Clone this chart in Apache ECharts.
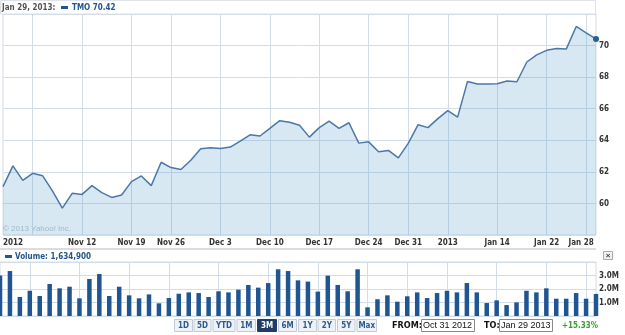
<!DOCTYPE html>
<html><head><meta charset="utf-8">
<script src="https://cdn.jsdelivr.net/npm/echarts@6/dist/echarts.min.js"></script>
<style>html,body{margin:0;padding:0;background:#fff}#c{width:625px;height:335px}</style>
</head><body><div id="c"></div>
<script>
const dates = [
 '2012-10-31','2012-11-01','2012-11-02','2012-11-05','2012-11-06','2012-11-07','2012-11-08','2012-11-09',
 '2012-11-12','2012-11-13','2012-11-14','2012-11-15','2012-11-16','2012-11-19','2012-11-20','2012-11-21',
 '2012-11-23','2012-11-26','2012-11-27','2012-11-28','2012-11-29','2012-11-30','2012-12-03','2012-12-04',
 '2012-12-05','2012-12-06','2012-12-07','2012-12-10','2012-12-11','2012-12-12','2012-12-13','2012-12-14',
 '2012-12-17','2012-12-18','2012-12-19','2012-12-20','2012-12-21','2012-12-24','2012-12-26','2012-12-27',
 '2012-12-28','2012-12-31','2013-01-02','2013-01-03','2013-01-04','2013-01-07','2013-01-08','2013-01-09',
 '2013-01-10','2013-01-11','2013-01-14','2013-01-15','2013-01-16','2013-01-17','2013-01-18','2013-01-22',
 '2013-01-23','2013-01-24','2013-01-25','2013-01-28','2013-01-29'];
const prices = [
 61.06,62.38,61.46,61.91,61.76,60.80,59.70,60.64,60.57,61.13,60.68,60.38,60.53,61.38,61.74,61.13,
 62.61,62.27,62.15,62.74,63.46,63.52,63.48,63.57,63.95,64.35,64.27,64.76,65.24,65.14,64.95,64.20,
 64.80,65.22,64.76,65.11,63.82,63.90,63.27,63.36,62.89,63.80,64.99,64.80,65.37,65.88,65.47,67.73,
 67.56,67.56,67.58,67.75,67.71,68.96,69.41,69.70,69.81,69.79,71.21,70.81,70.42];
const volumes = [
 3000000,3330000,1410000,1870000,1480000,2370000,2050000,2170000,1310000,2740000,3110000,1480000,
 2170000,1530000,1310000,1600000,940000,1330000,1650000,1750000,1700000,1410000,1830000,1750000,
 1950000,2300000,2100000,2440000,3460000,3330000,2640000,2550000,1810000,2990000,2300000,1830000,
 3460000,640000,1240000,1530000,1060000,1460000,1750000,1330000,1700000,1870000,1750000,2440000,
 1750000,960000,1160000,810000,1010000,1870000,1750000,2050000,1280000,1280000,1700000,1280000,1634900];
const gridDates = ['2012-11-05','2012-11-12','2012-11-19','2012-11-26','2012-12-03','2012-12-10','2012-12-17',
 '2012-12-24','2012-12-31','2013-01-07','2013-01-14','2013-01-22','2013-01-28'];
const tickDates = ['2012-10-31','2012-11-12','2012-11-19','2012-11-26','2012-12-03','2012-12-10','2012-12-17',
 '2012-12-24','2012-12-31','2013-01-07','2013-01-14','2013-01-22','2013-01-28'];
const tickLabels = ['2012','Nov 12','Nov 19','Nov 26','Dec 3','Dec 10','Dec 17','Dec 24','Dec 31','2013','Jan 14','Jan 22','Jan 28'];
const priceTicks = [60,62,64,66,68,70];
const volumeTicks = [1000000,2000000,3000000];

const FF = '"DejaVu Sans Condensed","DejaVu Sans",sans-serif';
const gridLine = '#d3dde7';
const lab = {fontSize:8, fontWeight:'bold', color:'#333', fontFamily:FF};

const chart = echarts.init(document.getElementById('c'), null, {renderer:'canvas'});

const buttons = [['1D',174,193],['5D',193.5,211.5],['YTD',212.5,235.5],['1M',236.5,256],['3M',257,277],
 ['6M',278,297],['1Y',298,317],['2Y',317.5,336],['5Y',337,355.5],['Max',356.5,377]];
const btnGraphics = [];
buttons.forEach(b => {
  const sel = b[0] === '3M';
  btnGraphics.push({type:'rect', shape:{x:b[1]+0.5, y:319.5, width:b[2]-b[1]-1, height:12},
    style:{fill: sel ? '#1f3d66' : '#eef2f6', stroke: sel ? '#1f3d66' : '#c3ccd6', lineWidth:1}});
  btnGraphics.push({type:'text', x:(b[1]+b[2])/2, y:326,
    style:{text:b[0], fill: sel ? '#fff' : '#2b5b8e', font:'bold 8px '+FF, align:'center', verticalAlign:'middle'}});
});

chart.setOption({
  animation:false,
  backgroundColor:'#fff',
  grid:[
    {left:0, right:29, top:14, height:221, show:true, borderColor:'#d4dce4', borderWidth:1, containLabel:false},
    {left:0, right:29, top:262, height:54, show:true, borderColor:'#d4dce4', borderWidth:1, containLabel:false}
  ],
  xAxis:[
    {type:'category', gridIndex:0, data:dates, boundaryGap:false,
     axisLine:{show:false}, axisTick:{show:false},
     axisLabel:Object.assign({}, lab, {margin:4,
       interval:(i)=>tickDates.indexOf(dates[i])>=0,
       formatter:(v)=>{const k=tickDates.indexOf(v); if(k<0) return '';
         if(k===0) return '{first|'+tickLabels[k]+'}';
         if(k===tickDates.length-1) return '{last|'+tickLabels[k]+'}';
         return tickLabels[k];},
       rich:{first:Object.assign({}, lab, {padding:[0,0,0,20]}), last:Object.assign({}, lab, {padding:[0,10,0,0]})}
     }),
     splitLine:{show:true, interval:(i)=>gridDates.indexOf(dates[i])>=0, lineStyle:{color:gridLine, width:1}}
    },
    {type:'category', gridIndex:1, data:dates, boundaryGap:false,
     axisLine:{show:false}, axisTick:{show:false}, axisLabel:{show:false},
     splitLine:{show:true, interval:(i)=>gridDates.indexOf(dates[i])>=0, lineStyle:{color:gridLine, width:1}}
    }
  ],
  yAxis:[
    {type:'value', gridIndex:0, position:'right', min:58, max:72, interval:2,
     axisLine:{show:false}, axisTick:{show:false},
     axisLabel:Object.assign({}, lab, {margin:3, formatter:(v)=>priceTicks.indexOf(v)>=0 ? String(v) : ''}),
     splitLine:{show:true, lineStyle:{color:gridLine, width:1}}
    },
    {type:'value', gridIndex:1, position:'right', min:0, max:4000000, interval:1000000,
     axisLine:{show:false}, axisTick:{show:false},
     axisLabel:Object.assign({}, lab, {margin:3, formatter:(v)=>volumeTicks.indexOf(v)>=0 ? (v/1e6).toFixed(1)+'M' : ''}),
     splitLine:{show:true, lineStyle:{color:gridLine, width:1}}
    }
  ],
  series:[
    {type:'line', xAxisIndex:0, yAxisIndex:0, data:prices,
     lineStyle:{color:'#4a78a8', width:1.5},
     areaStyle:{color:'rgba(75,150,200,0.22)', opacity:1, origin:'start'},
     symbol:'circle', showSymbol:true, showAllSymbol:true,
     symbolSize:(v,p)=> p.dataIndex === prices.length-1 ? 6 : 0,
     itemStyle:{color:'#2a5d94'}, z:3},
    {type:'bar', xAxisIndex:1, yAxisIndex:1, data:volumes, barWidth:4.5,
     itemStyle:{color:'#1f5591'}}
  ],
  graphic:[
    {type:'rect', shape:{x:0.5, y:0.5, width:595, height:13.5}, style:{fill:'#fff', stroke:'#dde3e9', lineWidth:1}, z:0},
    {type:'text', x:2, y:7.5, style:{text:'Jan 29, 2013:', fill:'#555', font:'bold 8px '+FF, verticalAlign:'middle'}},
    {type:'rect', shape:{x:61, y:6, width:7, height:3}, style:{fill:'#24558c'}},
    {type:'text', x:72, y:7.5, style:{text:'TMO 70.42', fill:'#24558c', font:'bold 8px '+FF, verticalAlign:'middle'}},
    {type:'text', x:3, y:229, style:{text:'© 2013 Yahoo! Inc.', fill:'#b9c4cf', font:'8px "Liberation Sans",sans-serif', verticalAlign:'middle'}},
    {type:'line', shape:{x1:0, y1:249, x2:596, y2:249}, style:{stroke:'#dcdcdc', lineWidth:2}},
    {type:'rect', shape:{x:5, y:255, width:7, height:3}, style:{fill:'#24558c'}},
    {type:'text', x:15, y:256.5, style:{text:'Volume: 1,634,900', fill:'#24558c', font:'bold 8px '+FF, verticalAlign:'middle'}},
    {type:'rect', shape:{x:603.5, y:251.5, width:9, height:8}, style:{fill:'#f0f0f0', stroke:'#a9a9a9', lineWidth:1}},
    {type:'text', x:608, y:255.5, style:{text:'×', fill:'#444', font:'bold 8px sans-serif', align:'center', verticalAlign:'middle'}},
    ...btnGraphics,
    {type:'text', x:392, y:326, style:{text:'FROM:', fill:'#111', font:'bold 9px '+FF, verticalAlign:'middle'}},
    {type:'rect', shape:{x:421.5, y:319.5, width:53, height:12}, style:{fill:'#fff', stroke:'#8a8a8a', lineWidth:1}},
    {type:'text', x:423, y:326, style:{text:'Oct 31 2012', fill:'#111', font:'9px "Liberation Sans",sans-serif', verticalAlign:'middle'}},
    {type:'text', x:484, y:326, style:{text:'TO:', fill:'#111', font:'bold 9px '+FF, verticalAlign:'middle'}},
    {type:'rect', shape:{x:499.5, y:319.5, width:53, height:12}, style:{fill:'#fff', stroke:'#8a8a8a', lineWidth:1}},
    {type:'text', x:501, y:326, style:{text:'Jan 29 2013', fill:'#111', font:'9px "Liberation Sans",sans-serif', verticalAlign:'middle'}},
    {type:'text', x:562, y:326, style:{text:'+15.33%', fill:'#36a12c', font:'bold 8px '+FF, verticalAlign:'middle'}}
  ]
});
</script></body></html>
